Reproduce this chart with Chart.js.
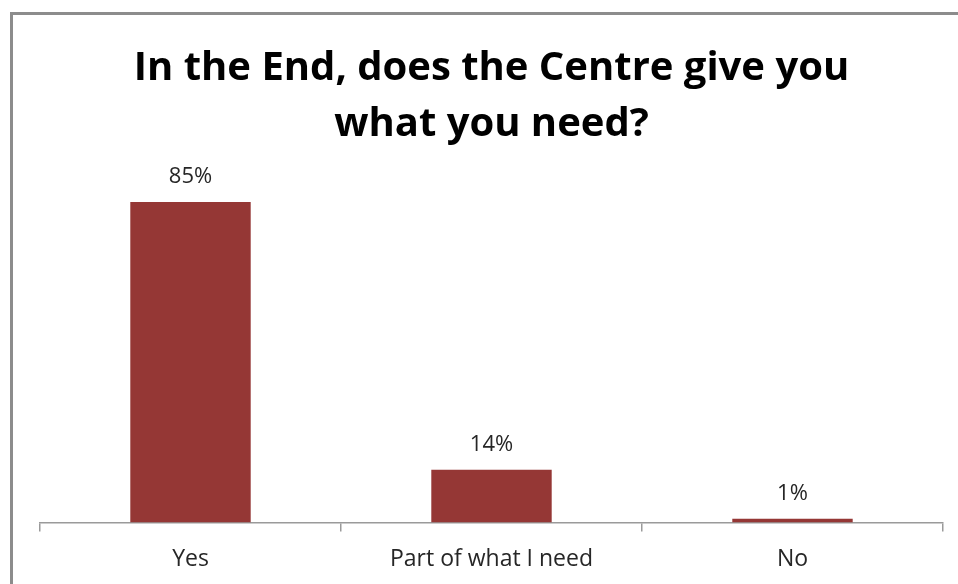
<!DOCTYPE html>
<html>
<head>
<meta charset="utf-8">
<script src="https://cdn.jsdelivr.net/npm/chart.js@4.4.1/dist/chart.umd.min.js"></script>
<style>
  html, body { margin: 0; padding: 0; background: #fff; overflow: hidden; }
  #frame {
    position: absolute; left: 10px; top: 12px;
    width: 1000px; height: 700px;
    border: 3px solid #8c8c8c;
  }
  #wrap { position: absolute; left: 0; top: 0; width: 958px; height: 588px; }
</style>
</head>
<body>
<div id="frame"></div>
<div id="wrap"><canvas id="chart"></canvas></div>
<script>
// survey answers
const categories = ['Yes', 'Part of what I need', 'No'];
const percents = [85, 14, 1];
const titleLines = ['In the End, does the Centre give you', 'what you need?'];

// value labels above each bar
const barLabels = {
  id: 'barLabels',
  afterDatasetsDraw(chart) {
    const ctx = chart.ctx;
    const meta = chart.getDatasetMeta(0);
    ctx.save();
    ctx.font = '22px "Open Sans", sans-serif';
    ctx.fillStyle = '#262626';
    ctx.textAlign = 'center';
    ctx.textBaseline = 'alphabetic';
    meta.data.forEach((bar, i) => {
      ctx.fillText(percents[i] + '%', bar.x, bar.y - 19);
    });
    ctx.restore();
  }
};

const ctx = document.getElementById('chart').getContext('2d');
new Chart(ctx, {
  type: 'bar',
  data: {
    labels: categories,
    datasets: [{
      data: percents,
      backgroundColor: '#953735',
      barPercentage: 0.4,
      categoryPercentage: 1
    }]
  },
  options: {
    responsive: true,
    maintainAspectRatio: false,
    animation: false,
    layout: { padding: { left: 40, right: 15, top: 0, bottom: 1 } },
    plugins: {
      legend: { display: false },
      tooltip: { enabled: false },
      title: {
        display: true,
        text: titleLines,
        color: '#000',
        font: { family: '"Open Sans", sans-serif', size: 40, weight: 'bold', lineHeight: 1.4 },
        padding: { top: 41, bottom: 0 }
      }
    },
    scales: {
      y: { display: false, min: 0, max: 98 },
      x: {
        grid: { drawOnChartArea: false, drawTicks: true, tickLength: 9, color: '#9a9a9a', lineWidth: 1.5 },
        border: { color: '#9a9a9a', width: 1.5 },
        ticks: { color: '#262626', padding: 14, font: { family: '"Open Sans", sans-serif', size: 23 } }
      }
    }
  },
  plugins: [barLabels]
});
</script>
</body>
</html>
